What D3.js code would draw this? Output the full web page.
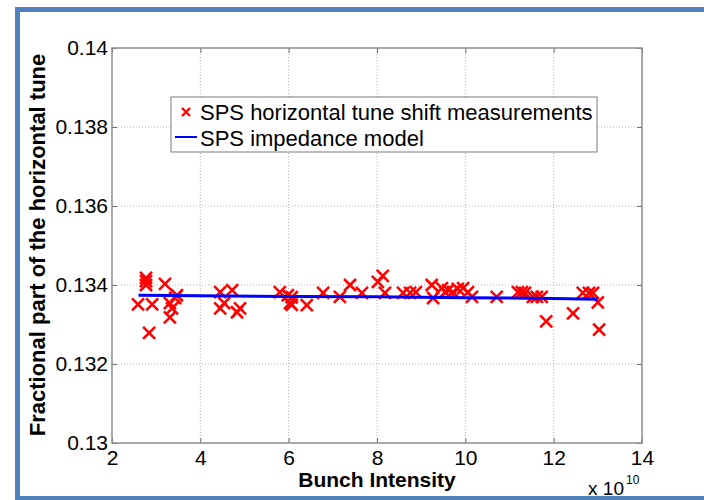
<!DOCTYPE html>
<html>
<head>
<meta charset="utf-8">
<script src="https://cdn.jsdelivr.net/npm/d3@7"></script>
<style>
  body { margin: 0; background: #fff; }
  text { font-family: "Liberation Sans", Arial, sans-serif; }
</style>
</head>
<body>
<script>
// measured points (bunch intensity in units of 1e10, fractional tune)
const intensity = [2.59, 2.91, 2.77, 2.77, 2.77, 2.84, 3.20, 3.31, 3.36, 3.31, 3.43, 3.47,
  4.45, 4.72, 4.45, 4.54, 4.83, 4.90,
  5.80, 5.98, 6.03, 6.07, 6.07, 6.41, 6.78, 7.16, 7.39, 7.66, 8.02, 8.13, 8.18,
  8.59, 8.75, 8.88, 9.24, 9.27, 9.47, 9.54, 9.61, 9.72, 9.83, 9.95, 10.06, 10.15,
  10.71, 11.19, 11.28, 11.35, 11.53, 11.62, 11.73, 11.83, 12.44, 12.66, 12.80, 12.89, 13.00, 13.03];
const tune = [0.13351, 0.13351, 0.13418, 0.13410, 0.13400, 0.13279, 0.13403, 0.13354, 0.13341, 0.13318, 0.13367, 0.13374,
  0.13382, 0.13387, 0.13341, 0.13354, 0.13331, 0.13341,
  0.13382, 0.13374, 0.13354, 0.13369, 0.13350, 0.13349, 0.13380, 0.13370, 0.13400, 0.13380, 0.13408, 0.13423, 0.13380,
  0.13380, 0.13380, 0.13382, 0.13400, 0.13367, 0.13392, 0.13382, 0.13387, 0.13382, 0.13390, 0.13392, 0.13382, 0.13370,
  0.13370, 0.13382, 0.13382, 0.13380, 0.13370, 0.13370, 0.13370, 0.13308, 0.13328, 0.13380, 0.13380, 0.13380, 0.13356, 0.13287];

// impedance model
const modelIntensity = [2.6, 4, 6, 8, 10, 12, 13.0];
const modelTune = [0.13374, 0.13373, 0.13371, 0.13370, 0.13368, 0.13366, 0.13364];

const xTicks = [2, 4, 6, 8, 10, 12, 14];
const yTicks = [0.13, 0.132, 0.134, 0.136, 0.138, 0.14];

const legendLabels = ["SPS horizontal tune shift measurements", "SPS impedance model"];

const W = 704, H = 500;
const plotLeft = 112, plotRight = 642, plotTop = 48, plotBottom = 443;

const x = d3.scaleLinear().domain([2, 14]).range([plotLeft, plotRight]);
const y = d3.scaleLinear().domain([0.13, 0.14]).range([plotBottom, plotTop]);

const svg = d3.select("body").append("svg")
  .attr("width", W)
  .attr("height", H);

svg.append("rect").attr("width", W).attr("height", H).attr("fill", "#fff");

// grid
const grid = svg.append("g").attr("stroke", "#b4b4b4").attr("stroke-width", 1).attr("stroke-dasharray", "1,2");
grid.selectAll(".gx").data(xTicks.slice(1, -1)).enter().append("line")
  .attr("x1", d => x(d)).attr("x2", d => x(d))
  .attr("y1", plotTop).attr("y2", plotBottom);
grid.selectAll(".gy").data(yTicks.slice(1, -1)).enter().append("line")
  .attr("x1", plotLeft).attr("x2", plotRight)
  .attr("y1", d => y(d)).attr("y2", d => y(d));

// axes with inward ticks
const fmt = d => String(+d.toFixed(3));
const axisStyle = g => {
  g.select(".domain").remove();
  g.selectAll(".tick line").attr("stroke", "#6e6e6e");
  g.selectAll(".tick text").attr("fill", "#000").attr("font-size", "21px")
    .attr("font-family", "Liberation Sans, Arial, sans-serif");
};

svg.append("g").attr("transform", `translate(0,${plotBottom})`)
  .call(d3.axisBottom(x).tickValues(xTicks).tickFormat(fmt).tickSizeInner(-5).tickSizeOuter(0).tickPadding(7))
  .call(axisStyle);
svg.append("g").attr("transform", `translate(${plotLeft},0)`)
  .call(d3.axisLeft(y).tickValues(yTicks).tickFormat(fmt).tickSizeInner(-5).tickSizeOuter(0).tickPadding(4))
  .call(axisStyle);
svg.append("g").attr("transform", `translate(0,${plotTop})`)
  .call(d3.axisTop(x).tickValues(xTicks).tickFormat("").tickSizeInner(-5).tickSizeOuter(0))
  .call(axisStyle);
svg.append("g").attr("transform", `translate(${plotRight},0)`)
  .call(d3.axisRight(y).tickValues(yTicks).tickFormat("").tickSizeInner(-5).tickSizeOuter(0))
  .call(axisStyle);

// box
svg.append("rect")
  .attr("x", plotLeft).attr("y", plotTop)
  .attr("width", plotRight - plotLeft).attr("height", plotBottom - plotTop)
  .attr("fill", "none").attr("stroke", "#8c8c8c").attr("stroke-width", 1.5);

// legend box
svg.append("rect")
  .attr("x", 171).attr("y", 97).attr("width", 426).attr("height", 55)
  .attr("fill", "#fff").attr("stroke", "#7a7a7a").attr("stroke-width", 1);

// measurements
const cross = s => `M${-s},${-s}L${s},${s}M${-s},${s}L${s},${-s}`;
svg.append("g").selectAll("path")
  .data(intensity.map((d, i) => [d, tune[i]]))
  .enter().append("path")
  .attr("transform", d => `translate(${x(d[0])},${y(d[1])})`)
  .attr("d", cross(6))
  .attr("stroke", "#ff0000").attr("stroke-width", 2.6).attr("fill", "none");

// model line
const line = d3.line().x(d => x(d[0])).y(d => y(d[1]));
svg.append("path")
  .datum(modelIntensity.map((d, i) => [d, modelTune[i]]))
  .attr("d", line)
  .attr("stroke", "#0000ff").attr("stroke-width", 3).attr("fill", "none");

// legend entries
svg.append("path").attr("transform", "translate(186,112)").attr("d", cross(4))
  .attr("stroke", "#ff0000").attr("stroke-width", 2.4).attr("fill", "none");
svg.append("line").attr("x1", 175).attr("x2", 197).attr("y1", 137).attr("y2", 137)
  .attr("stroke", "#0000ff").attr("stroke-width", 2);
svg.selectAll(".leg").data(legendLabels).enter().append("text")
  .attr("x", 200).attr("y", (d, i) => 120 + i * 26)
  .attr("font-size", "22px").attr("fill", "#000")
  .text(d => d);

// axis labels
svg.append("text")
  .attr("x", 377).attr("y", 487).attr("text-anchor", "middle")
  .attr("font-size", "21px").attr("font-weight", "bold")
  .text("Bunch Intensity");
svg.append("text")
  .attr("transform", "translate(45,245) rotate(-90)")
  .attr("text-anchor", "middle")
  .attr("font-size", "22px").attr("font-weight", "bold")
  .text("Fractional part of the horizontal tune");

// exponent
svg.append("text").attr("x", 624).attr("y", 495).attr("text-anchor", "end")
  .attr("font-size", "19px").text("x 10");
svg.append("text").attr("x", 626).attr("y", 484)
  .attr("font-size", "12px").text("10");

// slide frame
const frame = svg.append("g").attr("fill", "#4f81bd");
frame.append("rect").attr("x", 15).attr("y", 7).attr("width", W - 15).attr("height", 5);
frame.append("rect").attr("x", 15).attr("y", 7).attr("width", 5).attr("height", H - 7);
frame.append("rect").attr("x", 15).attr("y", 496).attr("width", W - 15).attr("height", 4);
</script>
</body>
</html>
